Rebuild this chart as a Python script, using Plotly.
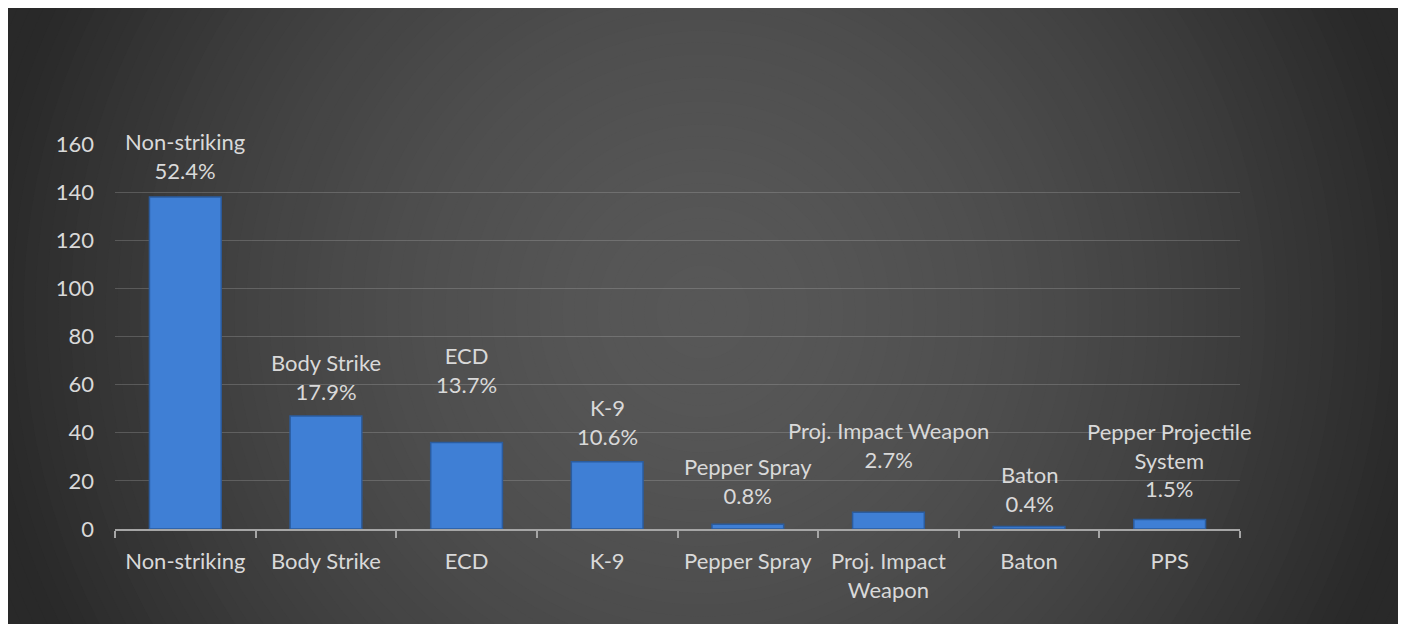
import plotly.graph_objects as go

categories = ["Non-striking", "Body Strike", "ECD", "K-9", "Pepper Spray",
              "Proj. Impact Weapon", "Baton", "PPS"]
tick_text = ["Non-striking", "Body Strike", "ECD", "K-9", "Pepper Spray",
             "Proj. Impact<br>Weapon", "Baton", "PPS"]
counts = [138, 47, 36, 28, 2, 7, 1, 4]
label_names = ["Non-striking", "Body Strike", "ECD", "K-9", "Pepper Spray",
               "Proj. Impact Weapon", "Baton", "Pepper Projectile<br>System"]
label_pcts = ["52.4%", "17.9%", "13.7%", "10.6%", "0.8%", "2.7%", "0.4%", "1.5%"]
label_gaps = [27, 25, 58, 26, 29, 53, 24, 31]  # px from bar top to last label line centre
y_ticks = [0, 20, 40, 60, 80, 100, 120, 140, 160]

# page body has an 8px margin, so the figure is drawn 8px in from the window corner
W, H = 1398, 616
ML, MR, MT, MB = 107, 166, 136, 95
PW, PH = W - ML - MR, H - MT - MB
FONT = "Lato"
TXT = "#d9d9d9"


def px2paper_x(px):
    return (px - ML) / PW


def px2paper_y(py):
    return (H - MB - py) / PH


fig = go.Figure()
fig.add_trace(go.Bar(
    x=categories, y=counts,
    marker=dict(color="#3f7fd5", line=dict(color="#2b5c9e", width=1.5)),
    width=0.51,
    hoverinfo="x+y",
))

# label annotations
for c, v, n, p, g in zip(categories, counts, label_names, label_pcts, label_gaps):
    fig.add_annotation(x=c, y=v, xref="x", yref="y", text=f"{n}<br>{p}",
                       showarrow=False, yanchor="bottom", yshift=g - 16,
                       font=dict(family=FONT, size=22, color=TXT))

# radial background gradient built from concentric circles
shapes = []
cx, cy = 695, 304
N = 70
rmax = 820
for k in range(N):
    r = rmax * (1 - k / N)
    L = 87 - 46 * min(1.0, (r / 720) ** 1.8)
    L = int(round(max(41, L)))
    col = f"rgb({L},{L},{L})"
    shapes.append(dict(type="circle", xref="paper", yref="paper", layer="below",
                       x0=px2paper_x(cx - r), x1=px2paper_x(cx + r),
                       y0=px2paper_y(cy + r), y1=px2paper_y(cy - r),
                       fillcolor=col, line=dict(width=0)))
# white strip at the right edge of the chart area
shapes.append(dict(type="rect", xref="paper", yref="paper", layer="below",
                   x0=px2paper_x(1393), x1=px2paper_x(W + 50),
                   y0=px2paper_y(H + 50), y1=px2paper_y(-50),
                   fillcolor="white", line=dict(width=0)))

fig.update_layout(
    width=W, height=H, autosize=False,
    margin=dict(l=ML, r=MR, t=MT, b=MB, pad=0, autoexpand=False),
    paper_bgcolor="white",
    plot_bgcolor="rgba(0,0,0,0)",
    shapes=shapes,
    showlegend=False,
    bargap=0.49,
    font=dict(family=FONT, size=22, color=TXT),
    xaxis=dict(
        range=[-0.5, len(categories) - 0.5],
        tickmode="array", tickvals=categories, ticktext=tick_text,
        tickson="boundaries", ticks="outside", ticklen=7, tickwidth=2,
        tickcolor="#a6a6a6", showline=True, linecolor="#a6a6a6", linewidth=2,
        showgrid=False, ticklabelstandoff=12, automargin=False,
        tickfont=dict(family=FONT, size=22, color=TXT),
    ),
    yaxis=dict(
        range=[0, 160], tickvals=y_ticks, showgrid=True,
        gridcolor="rgba(200,200,200,0.24)", gridwidth=1, zeroline=False,
        showline=False, ticks="", ticklabelstandoff=20, automargin=False,
        tickfont=dict(family=FONT, size=22, color=TXT),
    ),
)

fig.write_html("out.html")
